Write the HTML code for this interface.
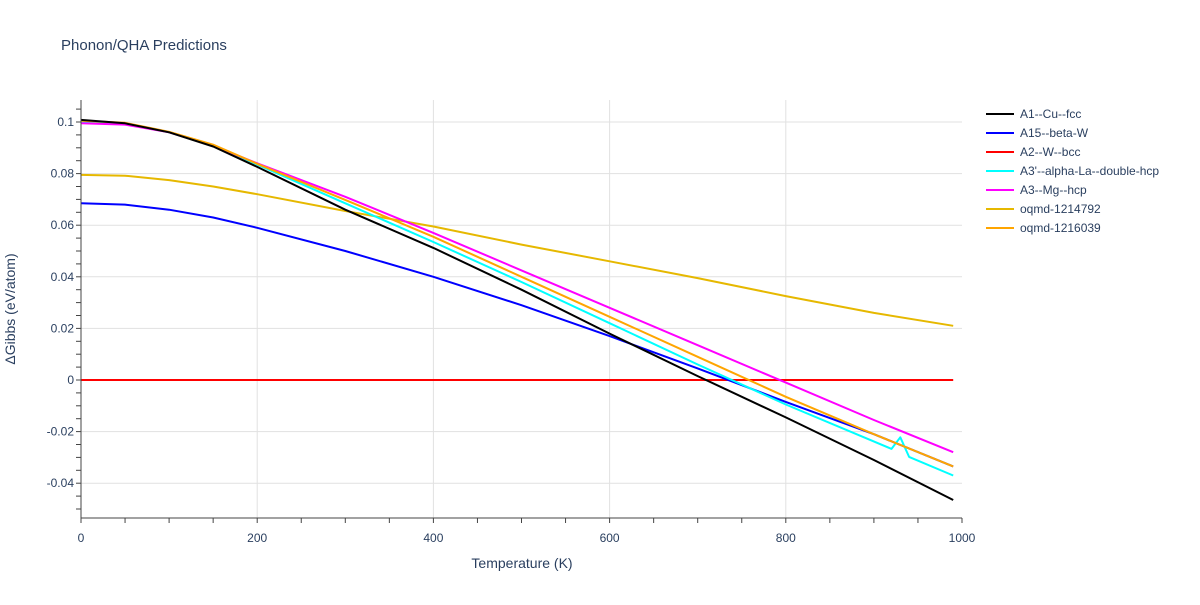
<!DOCTYPE html>
<html><head><meta charset="utf-8"><style>
body{margin:0;background:#fff;font-family:"Liberation Sans",sans-serif}
svg text{font-family:"Liberation Sans",sans-serif;fill:#2a3f5f}
</style></head><body>
<svg width="1200" height="600" xmlns="http://www.w3.org/2000/svg">
<text x="61" y="50" font-size="15">Phonon/QHA Predictions</text>
<g id="grid"></g>
<g id="series"></g>
<g id="axes"></g>
<text x="522" y="568" font-size="14" text-anchor="middle">Temperature (K)</text>
<text transform="translate(15,309) rotate(-90)" font-size="14" text-anchor="middle">ΔGibbs (eV/atom)</text>
<g id="legend"></g>
</svg>
<script>
const temps=[0,50,100,150,200,300,400,500,600,700,800,900,990];
const sA1=[0.1008,0.0995,0.096,0.0905,0.0826,0.066,0.0512,0.035,0.018,0.0015,-0.0145,-0.031,-0.0465];
const sA15=[0.0685,0.068,0.066,0.063,0.059,0.050,0.040,0.029,0.017,0.0045,-0.0085,-0.021,-0.0335];
const sA2=[0,0,0,0,0,0,0,0,0,0,0,0,0];
const tA3p=[0,50,100,150,200,300,400,500,600,700,800,920,930,940,990];
const sA3p=[0.1,0.0995,0.096,0.091,0.0835,0.0685,0.0535,0.038,0.022,0.006,-0.0095,-0.0267,-0.0222,-0.0298,-0.037];
const sMg=[0.0995,0.099,0.096,0.0908,0.084,0.071,0.057,0.0425,0.028,0.0135,-0.001,-0.0155,-0.028];
const s1214792=[0.0795,0.0792,0.0775,0.075,0.072,0.0655,0.0595,0.0525,0.046,0.0395,0.0325,0.026,0.021];
const s1216039=[0.1005,0.0997,0.0962,0.0912,0.0838,0.0698,0.0555,0.04,0.0245,0.009,-0.0065,-0.021,-0.0335];
const xTicks=[0,200,400,600,800,1000];
const yTicks=[-0.04,-0.02,0,0.02,0.04,0.06,0.08,0.1];
const names=["A1--Cu--fcc","A15--beta-W","A2--W--bcc","A3'--alpha-La--double-hcp","A3--Mg--hcp","oqmd-1214792","oqmd-1216039"];
const colors=["#000000","#0000ff","#ff0000","#00ffff","#ff00ff","#e6b800","#ffa500"];
const NS="http://www.w3.org/2000/svg";
const X=t=>81+t*0.881, Y=v=>380-v*2580;
const L=81,R=962,T=100,B=518;
function mk(tag,attrs,parent){const e=document.createElementNS(NS,tag);for(const k in attrs)e.setAttribute(k,attrs[k]);parent.appendChild(e);return e;}
const grid=document.getElementById('grid'),axes=document.getElementById('axes'),ser=document.getElementById('series'),leg=document.getElementById('legend');
xTicks.forEach(t=>{if(t>0&&t<1000){const g=mk('line',{x1:X(t),x2:X(t),y1:T,y2:B,stroke:'#e1e1e1'},grid);}
 const tx=mk('text',{x:X(t),y:B+24,'font-size':12,'text-anchor':'middle'},axes);tx.textContent=t;
 
 });
yTicks.forEach(v=>{if(v!==0){const g=mk('line',{x1:L,x2:R,y1:Y(v),y2:Y(v),stroke:'#e1e1e1'},grid);}
 const tx=mk('text',{x:L-7,y:Y(v)+4,'font-size':12,'text-anchor':'end'},axes);tx.textContent=(v===0?'0':String(+v.toFixed(2)).replace('0.','0.'));
 
 });
for(let t=0;t<=1000;t+=50){mk('line',{x1:X(t),x2:X(t),y1:B,y2:B+5,stroke:'#444'},axes);}
for(let v=-0.05;v<=0.1051;v+=0.005){mk('line',{x1:L-5,x2:L,y1:Y(v),y2:Y(v),stroke:'#444'},axes);}
mk('line',{x1:L,x2:L,y1:T,y2:B,stroke:'#444'},axes);
mk('line',{x1:L,x2:R,y1:B,y2:B,stroke:'#444'},axes);
const data=[[temps,sA1],[temps,sA15],[temps,sA2],[tA3p,sA3p],[temps,sMg],[temps,s1214792],[temps,s1216039]];
const order=[2,1,5,3,4,6,0];
order.forEach(i=>{const [ts,vs]=data[i];const d=ts.map((t,j)=>(j?'L':'M')+X(t).toFixed(1)+','+Y(vs[j]).toFixed(1)).join('');
 const p=mk('path',{d:d,fill:'none',stroke:colors[i],'stroke-width':2,'stroke-linejoin':'round'},ser);
 
 });
names.forEach((n,i)=>{const y=114+i*19;
 const g=mk('g',{},leg);
 
 
 mk('line',{x1:986,x2:1014,y1:y,y2:y,stroke:colors[i],'stroke-width':2},g);
 const tx=mk('text',{x:1020,y:y+4,'font-size':12},g);tx.textContent=n;});
</script>
</body></html>
